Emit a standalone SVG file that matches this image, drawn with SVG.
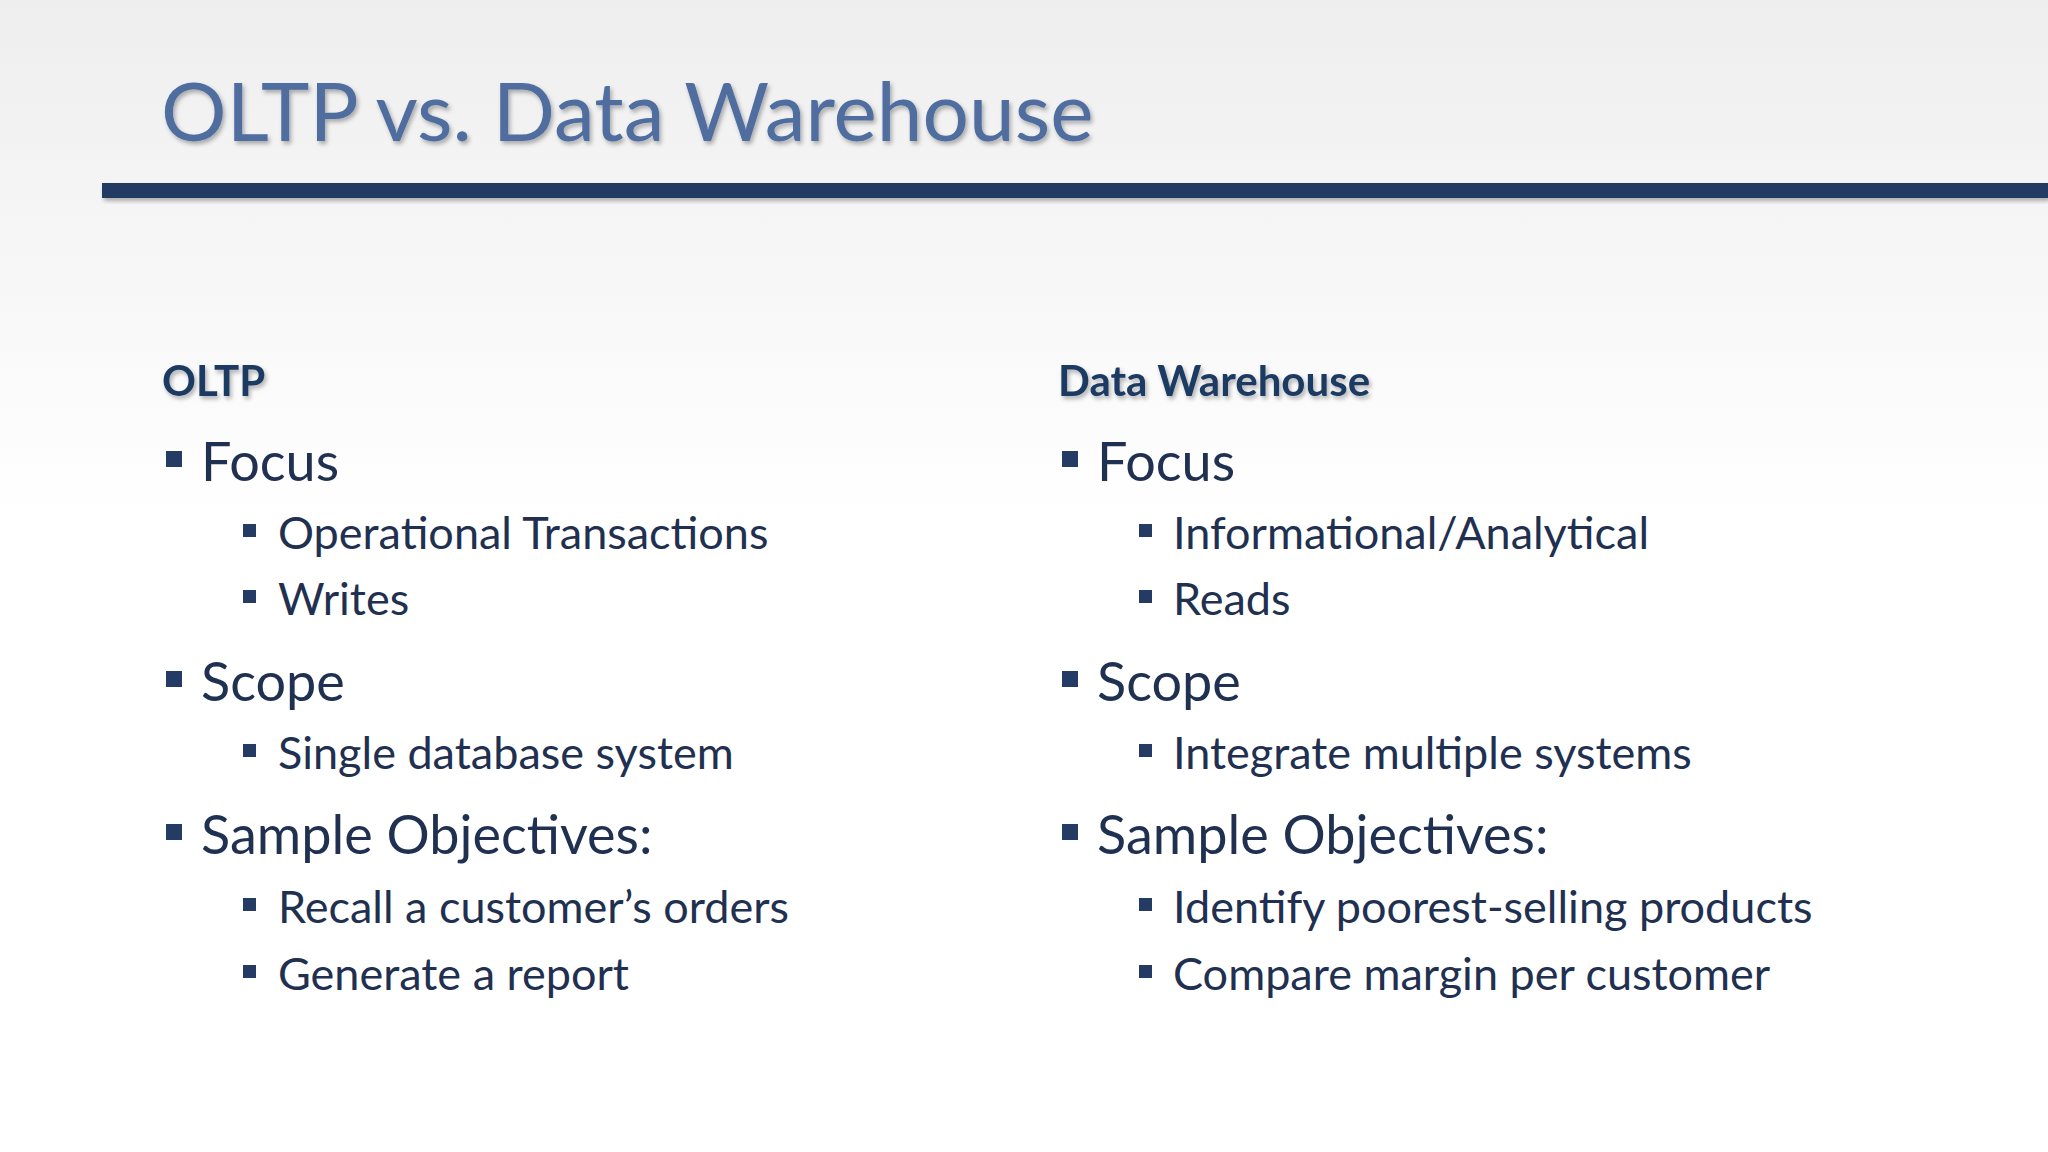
<svg xmlns="http://www.w3.org/2000/svg" width="2048" height="1152" viewBox="0 0 2048 1152">
<defs>
<linearGradient id="bg" x1="0" y1="0" x2="0" y2="1"><stop offset="0" stop-color="#eeeeee"/><stop offset="0.45" stop-color="#ffffff"/><stop offset="1" stop-color="#ffffff"/></linearGradient>
<filter id="sh" x="-5%" y="-20%" width="110%" height="160%"><feDropShadow dx="2" dy="3" stdDeviation="2" flood-color="#000" flood-opacity="0.3"/></filter>
<style>
text{font-family:Lato,"Liberation Sans",sans-serif;fill:#1f3050}
.t{font-size:82px;fill:#4f6d9e;filter:url(#sh)}
.h{font-size:42px;font-weight:bold;fill:#1f3a63;filter:url(#sh)}
.l1{font-size:54px}
.l2{font-size:45px}
.b{fill:#243b63}
</style>
</defs>
<rect width="2048" height="1152" fill="url(#bg)"/>
<g id="title"><text class="t" x="161" y="141">OLTP vs. Data Warehouse</text></g>
<g id="bar"><rect x="102" y="183" width="1946" height="15" fill="#243b63" filter="url(#sh)"/></g>
<g id="oltp">
<text class="h" x="162" y="396">OLTP</text>
<rect class="b" x="166" y="451" width="16" height="16"/><text class="l1" x="201" y="481">Focus</text>
<rect class="b" x="243" y="524" width="13" height="13"/><text class="l2" x="278" y="549">Operational Transactions</text>
<rect class="b" x="243" y="590" width="13" height="13"/><text class="l2" x="278" y="615">Writes</text>
<rect class="b" x="166" y="671" width="16" height="16"/><text class="l1" x="201" y="701">Scope</text>
<rect class="b" x="243" y="744" width="13" height="13"/><text class="l2" x="278" y="769">Single database system</text>
<rect class="b" x="166" y="824" width="16" height="16"/><text class="l1" x="201" y="854">Sample Objectives:</text>
<rect class="b" x="243" y="898" width="13" height="13"/><text class="l2" x="278" y="923">Recall a customer’s orders</text>
<rect class="b" x="243" y="965" width="13" height="13"/><text class="l2" x="278" y="990">Generate a report</text>
</g>
<g id="dw">
<text class="h" x="1058" y="396">Data Warehouse</text>
<rect class="b" x="1062" y="451" width="16" height="16"/><text class="l1" x="1097" y="481">Focus</text>
<rect class="b" x="1139" y="524" width="13" height="13"/><text class="l2" x="1173" y="549">Informational/Analytical</text>
<rect class="b" x="1139" y="590" width="13" height="13"/><text class="l2" x="1173" y="615">Reads</text>
<rect class="b" x="1062" y="671" width="16" height="16"/><text class="l1" x="1097" y="701">Scope</text>
<rect class="b" x="1139" y="744" width="13" height="13"/><text class="l2" x="1173" y="769">Integrate multiple systems</text>
<rect class="b" x="1062" y="824" width="16" height="16"/><text class="l1" x="1097" y="854">Sample Objectives:</text>
<rect class="b" x="1139" y="898" width="13" height="13"/><text class="l2" x="1173" y="923">Identify poorest-selling products</text>
<rect class="b" x="1139" y="965" width="13" height="13"/><text class="l2" x="1173" y="990">Compare margin per customer</text>
</g>
</svg>
